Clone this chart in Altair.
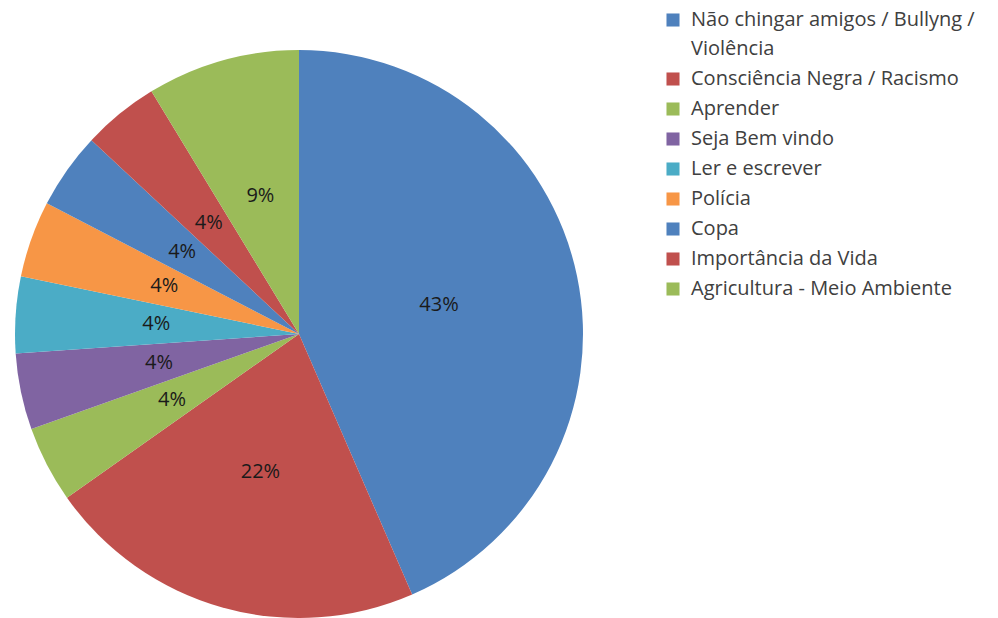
import altair as alt
import pandas as pd

categories = [
    "Não chingar amigos / Bullyng / Violência",
    "Consciência Negra / Racismo",
    "Aprender",
    "Seja Bem vindo",
    "Ler e escrever",
    "Polícia",
    "Copa",
    "Importância da Vida",
    "Agricultura - Meio Ambiente",
]
counts = [10, 5, 1, 1, 1, 1, 1, 1, 2]
colors = ["#4F81BD", "#C0504D", "#9BBB59", "#8064A2", "#4BACC6",
          "#F79646", "#4F81BD", "#C0504D", "#9BBB59"]

df = pd.DataFrame({"cat": categories, "count": counts, "idx": list(range(len(categories)))})

FONT = "Open Sans"
CX, CY, R = 291, 326, 284

base = alt.Chart(df).transform_joinaggregate(
    total="sum(count)"
).transform_calculate(
    pct="round(datum.count / datum.total * 100) + '%'"
).encode(
    theta=alt.Theta("count:Q", stack=True),
    order=alt.Order("idx:Q"),
)

pie = base.mark_arc(outerRadius=R, x=CX, y=CY).encode(
    color=alt.Color(
        "cat:N",
        scale=alt.Scale(domain=categories, range=colors),
        sort=categories,
        legend=alt.Legend(
            title=None,
            orient="none",
            legendX=655,
            legendY=2,
            symbolType="square",
            symbolSize=170,
            symbolStrokeWidth=0,
            labelFont=FONT,
            labelFontSize=20,
            labelColor="#404040",
            labelLimit=400,
            rowPadding=10,
            labelOffset=8,
            labelExpr="datum.label == 'Não chingar amigos / Bullyng / Violência' ? ['Não chingar amigos / Bullyng /', 'Violência'] : datum.label",
        ),
    )
)

labels = base.mark_text(x=CX, y=CY, radius=143, font=FONT, fontSize=20, color="#1a1a1a").encode(
    text="pct:N"
)

chart = (pie + labels).properties(
    width=982, height=610, padding=0,
    autosize=alt.AutoSizeParams(type="none"),
).configure_view(stroke=None).configure(
    background="white",
    style={"guide-label": {"lineHeight": 29}},
)

chart.save("out.html", embed_options={"renderer": "svg", "actions": False})
